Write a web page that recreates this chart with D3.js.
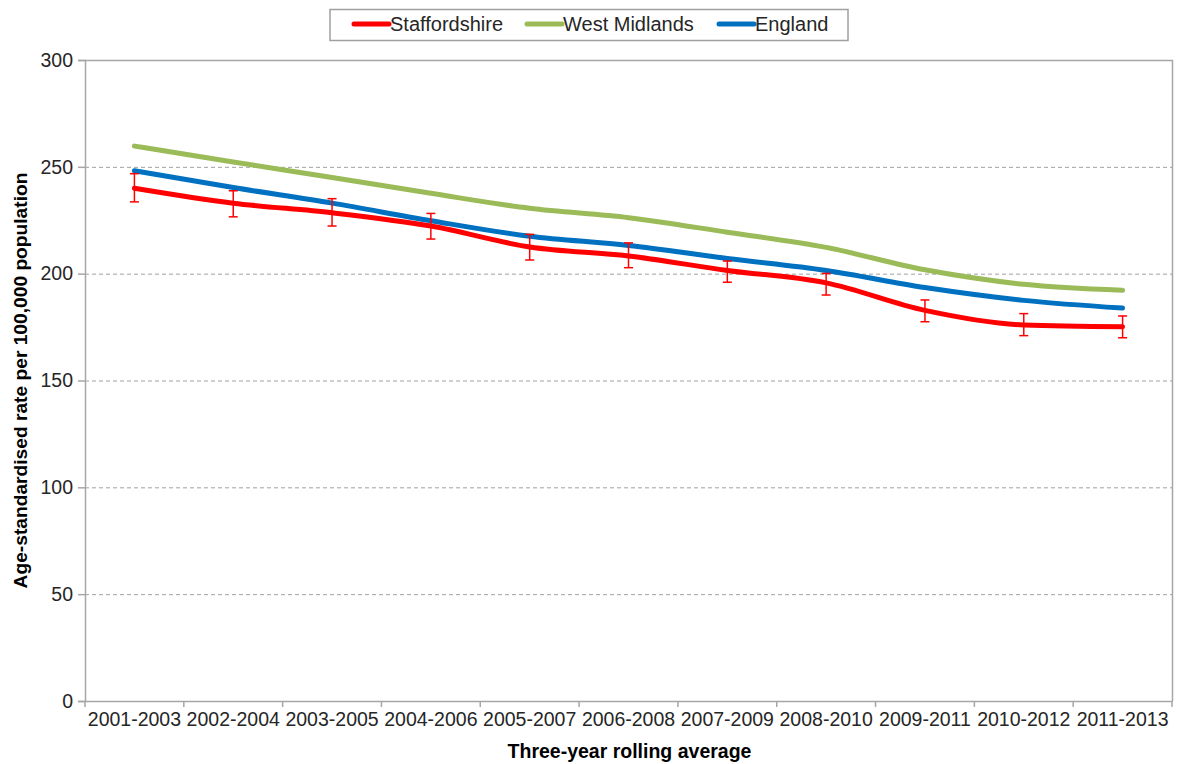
<!DOCTYPE html>
<html>
<head>
<meta charset="utf-8">
<script src="https://cdn.jsdelivr.net/npm/d3@7/dist/d3.min.js"></script>
<style>
  html, body { margin: 0; padding: 0; background: #fff; }
  svg { display: block; font-family: "Liberation Sans", Arial, sans-serif; }
</style>
</head>
<body>
<svg id="chart" width="1177" height="764"></svg>
<script>
// Three-year rolling periods
const periods = ["2001-2003","2002-2004","2003-2005","2004-2006","2005-2007","2006-2008",
                 "2007-2009","2008-2010","2009-2011","2010-2012","2011-2013"];

// Age-standardised rate per 100,000 population
const staffordshire = [240, 233, 228.5, 222.3, 212.5, 208.3, 201.5, 195.7, 182.8, 176, 175.2];
const staffLower    = [233.6, 226.6, 222.3, 216.2, 206.4, 202.8, 196, 190, 177.5, 171, 170];
const staffUpper    = [246.8, 238.8, 235.1, 228.2, 218.4, 214.4, 205.9, 200.1, 187.7, 181.3, 180.2];
const westMidlands  = [259.7, 252.3, 245, 237.6, 230.6, 226.2, 219.4, 212.3, 201.8, 195, 192.2];
const england       = [248.2, 240.3, 233, 224.8, 217.5, 213.2, 207.1, 201.5, 193.5, 187.5, 183.9];

const yTicks = [0, 50, 100, 150, 200, 250, 300];

const seriesList = [
  { name: "Staffordshire", values: staffordshire, color: "#FF0000" },
  { name: "West Midlands", values: westMidlands, color: "#9BBB59" },
  { name: "England",       values: england,      color: "#0070C0" }
];

const svg = d3.select("#chart");
const margin = { left: 85, right: 1172, top: 60, bottom: 701 };

const x = d3.scaleBand().domain(periods).range([margin.left, margin.right]);
const y = d3.scaleLinear().domain([0, 300]).range([margin.bottom, margin.top]);
const cx = d => x(d) + x.bandwidth() / 2;

const axisColor = "#A6A6A6";
const textColor = "#262626";
const labelSize = 19.5;

// Horizontal dashed gridlines
svg.append("g").selectAll("line")
  .data(yTicks.filter(t => t > 0 && t < 300))
  .join("line")
  .attr("x1", margin.left).attr("x2", margin.right)
  .attr("y1", d => y(d) + 0.5).attr("y2", d => y(d) + 0.5)
  .attr("stroke", "#A0A0A0").attr("stroke-width", 1)
  .attr("stroke-dasharray", "4,3");

// Plot-area border (top and right)
svg.append("path")
  .attr("d", `M${margin.left},${margin.top + 0.5}H${margin.right + 0.5}V${margin.bottom}`)
  .attr("fill", "none").attr("stroke", axisColor).attr("stroke-width", 1.5);

// Y axis
const yAxis = svg.append("g")
  .attr("transform", `translate(${margin.left},0)`)
  .call(d3.axisLeft(y).tickValues(yTicks).tickSize(7).tickPadding(5));
yAxis.select(".domain").attr("stroke", axisColor).attr("stroke-width", 1.5);
yAxis.selectAll(".tick line").attr("stroke", axisColor).attr("stroke-width", 1.5);
yAxis.selectAll("text").attr("font-size", labelSize).attr("fill", textColor)
  .attr("font-family", "Liberation Sans, Arial, sans-serif");

// X axis with ticks at band boundaries
const xAxis = svg.append("g")
  .attr("transform", `translate(0,${margin.bottom})`)
  .call(d3.axisBottom(x).tickSize(0).tickPadding(11));
xAxis.select(".domain").attr("stroke", axisColor).attr("stroke-width", 1.5);
xAxis.selectAll("text").attr("font-size", labelSize).attr("fill", textColor)
  .attr("font-family", "Liberation Sans, Arial, sans-serif");
const bounds = periods.map(p => x(p)).concat([x(periods[periods.length - 1]) + x.bandwidth()]);
svg.append("g").selectAll("line").data(bounds).join("line")
  .attr("x1", d => d).attr("x2", d => d)
  .attr("y1", margin.bottom).attr("y2", margin.bottom + 6)
  .attr("stroke", axisColor).attr("stroke-width", 1.5);

// Series lines
const line = d3.line()
  .x((d, i) => cx(periods[i]))
  .y(d => y(d))
  .curve(d3.curveMonotoneX);

const drawOrder = [seriesList[1], seriesList[2], seriesList[0]];
svg.append("g").selectAll("path")
  .data(drawOrder)
  .join("path")
  .attr("d", s => line(s.values))
  .attr("fill", "none")
  .attr("stroke", s => s.color)
  .attr("stroke-width", 5)
  .attr("stroke-linecap", "round")
  .attr("stroke-linejoin", "round");

// Confidence interval error bars for Staffordshire
const eb = svg.append("g").attr("stroke", "#FF0000").attr("stroke-width", 1.5);
periods.forEach((p, i) => {
  const px = cx(p);
  eb.append("line").attr("x1", px).attr("x2", px)
    .attr("y1", y(staffUpper[i])).attr("y2", y(staffLower[i]));
  eb.append("line").attr("x1", px - 4.5).attr("x2", px + 4.5)
    .attr("y1", y(staffUpper[i])).attr("y2", y(staffUpper[i]));
  eb.append("line").attr("x1", px - 4.5).attr("x2", px + 4.5)
    .attr("y1", y(staffLower[i])).attr("y2", y(staffLower[i]));
});

// Axis titles
svg.append("text")
  .attr("x", (margin.left + margin.right) / 2 + 1)
  .attr("y", 758)
  .attr("text-anchor", "middle")
  .attr("font-size", 19.5).attr("font-weight", "bold").attr("fill", "#000")
  .text("Three-year rolling average");

svg.append("text")
  .attr("transform", `translate(27,${(margin.top + margin.bottom) / 2}) rotate(-90)`)
  .attr("text-anchor", "middle")
  .attr("font-size", 19.2).attr("font-weight", "bold").attr("fill", "#000")
  .text("Age-standardised rate per 100,000 population");

// Legend
const legend = svg.append("g");
legend.append("rect")
  .attr("x", 330).attr("y", 9.5).attr("width", 518).attr("height", 31)
  .attr("fill", "#fff").attr("stroke", "#A0A0A0").attr("stroke-width", 1.5);
const legendX = [354, 527, 719];
seriesList.forEach((s, i) => {
  const gx = legendX[i];
  legend.append("line")
    .attr("x1", gx).attr("x2", gx + 35).attr("y1", 24).attr("y2", 24)
    .attr("stroke", s.color).attr("stroke-width", 5).attr("stroke-linecap", "round");
  legend.append("text")
    .attr("x", gx + 36).attr("y", 31)
    .attr("font-size", 20).attr("fill", textColor)
    .text(s.name);
});
</script>
</body>
</html>
